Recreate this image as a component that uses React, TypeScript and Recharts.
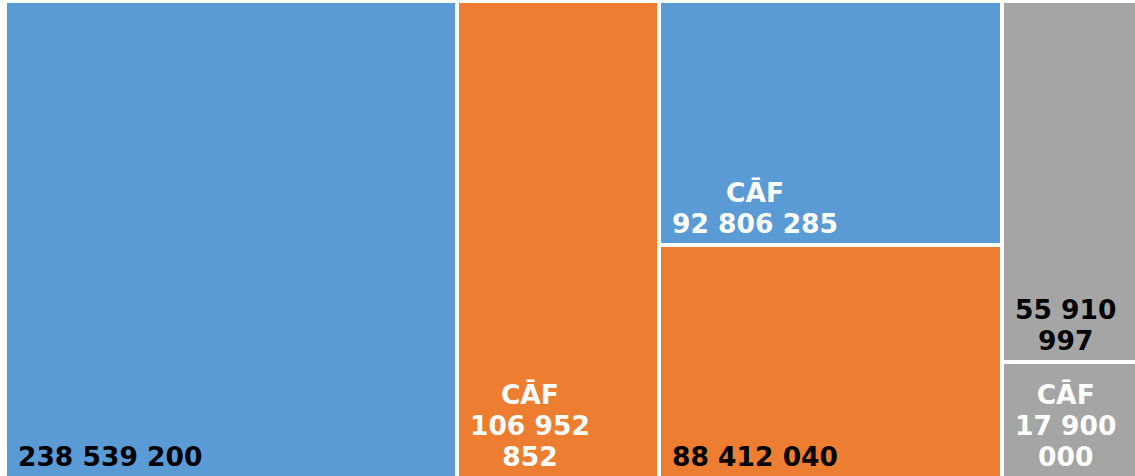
import React from "react";
import { Treemap } from "recharts";

// ---- data ----
const categories = ["", "CĀF", "CĀF", "", "", "CĀF"];
const values = [238539200, 106952852, 92806285, 88412040, 55910997, 17900000];
const fills = ["#5B9BD5", "#ED7D31", "#5B9BD5", "#ED7D31", "#A5A5A5", "#A5A5A5"];
const labelColors = ["#000000", "#FFFFFF", "#FFFFFF", "#000000", "#000000", "#FFFFFF"];

const leaf = (i: number) => ({
  name: `cell-${i}`,
  category: categories[i],
  size: values[i],
  cellFill: fills[i],
  textFill: labelColors[i],
});

// column grouping of the treemap
const treeData = [
  leaf(0),
  {
    name: "g1",
    children: [
      leaf(1),
      {
        name: "g2",
        children: [
          { name: "g3", children: [leaf(2), leaf(3)] },
          { name: "g4", children: [leaf(4), leaf(5)] },
        ],
      },
    ],
  },
];

const FONT_FAMILY = "DejaVu Sans";
const FONT_SIZE = 26.5;
const LINE_H = 31;
const PAD = 13;

const formatValue = (v: number) => String(v).replace(/\B(?=(\d{3})+(?!\d))/g, " ");

let ctx: CanvasRenderingContext2D | null = null;
const measure = (t: string) => {
  try {
    if (!ctx) {
      const c = document.createElement("canvas");
      ctx = c.getContext("2d");
      if (ctx) ctx.font = `bold ${FONT_SIZE}px '${FONT_FAMILY}'`;
    }
    if (ctx) return ctx.measureText(t).width;
  } catch (e) {}
  let w = 0;
  for (const ch of t) w += ch === " " ? 0.348 : 0.696;
  return w * FONT_SIZE;
};

const wrap = (words: string[], maxW: number) => {
  const lines: string[] = [];
  let cur = "";
  for (const w of words) {
    const cand = cur ? cur + " " + w : w;
    if (!cur || measure(cand) <= maxW) cur = cand;
    else {
      lines.push(cur);
      cur = w;
    }
  }
  if (cur) lines.push(cur);
  return lines;
};

const CellContent = (props: any) => {
  const { x, y, width, height, cellFill, textFill, category, size } = props;
  if (!cellFill) return null;
  const lines: string[] = [];
  if (category) lines.push(category);
  lines.push(...wrap(formatValue(size).split(" "), width - 2 * PAD + 4));
  const maxW = Math.max(...lines.map(measure));
  const cx = x + PAD + maxW / 2;
  const lastBaseline = y + height - 12.5;
  return (
    <g>
      <rect x={x} y={y} width={width} height={height} fill={cellFill} stroke="#FFFFFF" strokeWidth={4} />
      <text
        fontFamily={FONT_FAMILY}
        fontWeight="bold"
        fontSize={FONT_SIZE}
        fill={textFill}
        textAnchor="middle"
      >
        {lines.map((l, i) => (
          <tspan key={i} x={cx} y={lastBaseline - (lines.length - 1 - i) * LINE_H}>
            {l}
          </tspan>
        ))}
      </text>
    </g>
  );
};

export default function App() {
  return (
    <div
      style={{
        position: "absolute",
        left: 0,
        top: 0,
        width: 1135,
        height: 476,
        overflow: "hidden",
        background: "#FFFFFF",
      }}
    >
      <div style={{ position: "absolute", left: 5, top: 1 }}>
        <Treemap
          width={1137}
          height={477}
          data={treeData}
          dataKey="size"
          aspectRatio={0.5}
          isAnimationActive={false}
          content={(p: any) => <CellContent {...p} />}
        />
      </div>
    </div>
  );
}
